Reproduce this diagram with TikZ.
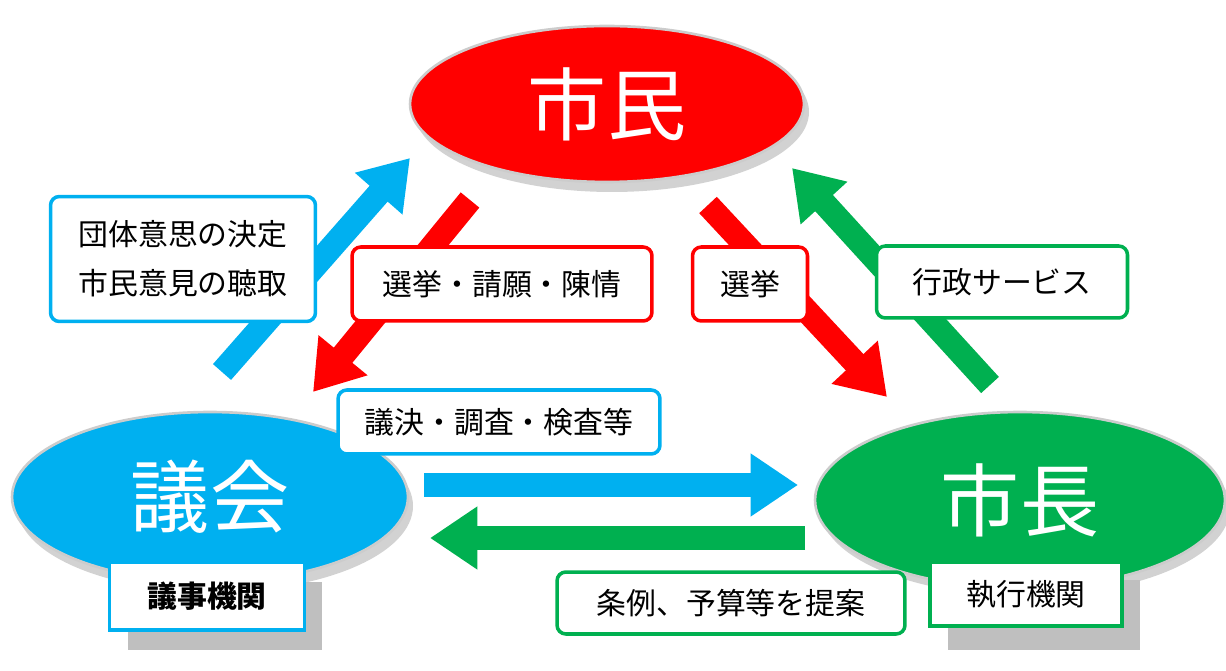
\documentclass[tikz,border=0pt]{standalone}
\usepackage{fontspec}
\setmainfont{Noto Sans CJK JP}
\usetikzlibrary{arrows.meta,shapes.geometric}
\definecolor{cRed}{RGB}{255,0,0}
\definecolor{cBlue}{RGB}{0,176,240}
\definecolor{cGreen}{RGB}{0,176,80}
\tikzset{
  bigell/.style={ellipse,text=white,font=\fontsize{45}{48}\selectfont,
    draw=gray!40,line width=1.5pt},
  lbl/.style={draw=#1,line width=2pt,rounded corners=5pt,fill=white,font=\fontsize{17}{28}\selectfont,align=center},
  fat/.style={line width=0.48cm,draw=#1,-{Triangle[length=0.95cm,width=1.2cm]}},
  shadowbox/.style={fill=gray!50,draw=none}
}
\begin{document}
\begin{tikzpicture}[x=0.02cm,y=-0.02cm]
\useasboundingbox (0,0) rectangle (1226,671);

% shadows of the ovals
\fill[gray!35] (612,112) ellipse (197 and 80);
\fill[gray!35] (215,506) ellipse (198 and 86);
\fill[gray!35] (1025,508) ellipse (205 and 88);

\node (shimin) [bigell,minimum width=7.88cm,minimum height=3.12cm,fill=cRed] at (607,104) {市民};
\node (gikai)  [bigell,minimum width=7.92cm,minimum height=3.4cm,fill=cBlue] at (210,497) {議会};
\node (shicho) [bigell,minimum width=8.2cm,minimum height=3.52cm,fill=cGreen] at (1020,500) {市長};

% arrow ends
\coordinate (a1) at (222,372); \coordinate (b1) at (410,158);
\coordinate (a2) at (470,200); \coordinate (b2) at (313,392);
\coordinate (a3) at (708,205); \coordinate (b3) at (887,397);
\coordinate (a4) at (990,385); \coordinate (b4) at (792,168);
\coordinate (a5) at (424,485); \coordinate (b5) at (798,485);
\coordinate (a6) at (805,538); \coordinate (b6) at (430,538);

\draw[fat=cBlue]  (a1) -- (b1);
\draw[fat=cRed]   (a2) -- (b2);
\draw[fat=cRed]   (a3) -- (b3);
\draw[fat=cGreen] (a4) -- (b4);
\draw[fat=cBlue]  (a5) -- (b5);
\draw[fat=cGreen] (a6) -- (b6);

\node (ikou)   [lbl=cBlue,minimum width=5.3cm,minimum height=2.5cm] at (183,259) {団体意思の決定\\市民意見の聴取};
\node (seigan) [lbl=cRed,minimum width=6cm,minimum height=1.48cm] at (502,284) {選挙・請願・陳情};
\node (senkyo) [lbl=cRed,minimum width=2.3cm,minimum height=1.48cm] at (750,284) {選挙};
\node (gyosei) [lbl=cGreen,minimum width=5.02cm,minimum height=1.44cm] at (1002,282) {行政サービス};
\node (giketsu) [lbl=cBlue,minimum width=6.44cm,minimum height=1.28cm] at (499,422) {議決・調査・検査等};
\node (jorei)  [lbl=cGreen,minimum width=6.96cm,minimum height=1.24cm] at (731,603) {条例、予算等を提案};

\fill[shadowbox] (128,582) rectangle (322,650);
\fill[shadowbox] (948,580) rectangle (1140,650);
\node (giji)   [lbl=cBlue,rounded corners=0pt,font=\fontsize{17}{20}\bfseries\selectfont,minimum width=3.9cm,minimum height=1.36cm] at (207,596) {議事機関};
\node (shikko) [lbl=cGreen,rounded corners=0pt,minimum width=3.84cm,minimum height=1.28cm] at (1026,594) {執行機関};
\end{tikzpicture}
\end{document}
